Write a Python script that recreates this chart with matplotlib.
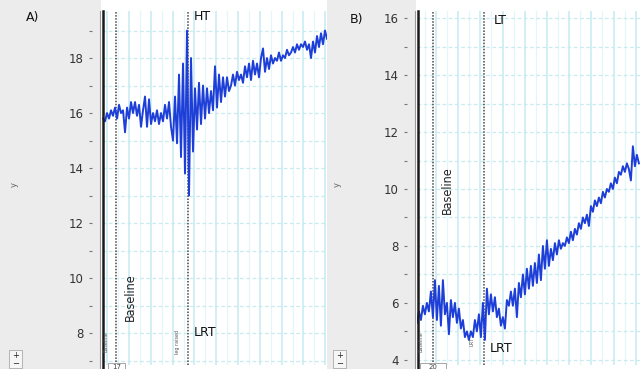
import numpy as np
import matplotlib.pyplot as plt
from matplotlib.lines import Line2D
from matplotlib.patches import Rectangle
from matplotlib.ticker import MultipleLocator

W, H = 640, 369

# signal A (read every ~2 px across the trace)
vals_a = [15.8, 15.7, 16.0, 15.8, 16.1, 15.9, 16.2, 15.8, 16.3, 16.0,
          16.1, 15.3, 16.2, 15.8, 16.4, 16.0, 16.4, 15.9, 16.3, 15.5,
          16.1, 16.6, 15.5, 16.5, 15.6, 16.0, 15.7, 16.1, 15.6, 16.0,
          15.7, 16.3, 15.8, 16.4, 15.5, 15.0, 16.6, 14.9, 17.4, 14.4,
          17.8, 13.8, 19.0, 13.0, 18.0, 14.6, 16.9, 15.4, 17.1, 15.6,
          17.0, 15.8, 16.9, 16.0, 16.8, 16.1, 17.7, 16.2, 17.4, 16.4,
          17.3, 16.6, 17.3, 16.8, 17.0, 17.4, 17.0, 17.5, 17.2, 17.4,
          17.1, 17.7, 17.3, 17.8, 17.2, 17.9, 17.4, 17.8, 17.3, 18.0,
          18.35, 17.5, 18.0, 17.6, 18.1, 17.8, 18.0, 17.9, 18.2, 17.9,
          18.1, 18.0, 18.3, 18.1, 18.2, 18.4, 18.2, 18.5, 18.3, 18.5,
          18.4, 18.6, 18.3, 18.5, 18.0, 18.6, 18.2, 18.8, 18.4, 18.9,
          18.5, 19.0, 18.7]

# signal B
vals_b = [5.3, 5.7, 5.4, 5.9, 5.6, 6.0, 5.7, 6.4, 5.5, 6.8,
          5.4, 6.6, 5.2, 6.8, 5.6, 6.0, 4.9, 6.1, 5.5, 6.0,
          5.3, 5.8, 5.1, 5.4, 4.8, 5.0, 4.7, 5.0, 4.8, 5.4,
          5.0, 5.6, 4.8, 6.0, 4.7, 6.5, 5.6, 6.3, 5.7, 6.2,
          5.5, 5.8, 5.2, 5.5, 5.1, 6.1, 5.9, 6.4, 5.9, 6.5,
          5.5, 6.7, 6.2, 7.0, 6.3, 7.2, 6.5, 7.3, 6.6, 7.4,
          6.7, 7.7, 6.8, 8.0, 7.2, 8.2, 7.3, 7.9, 7.5, 8.1,
          7.7, 8.2, 7.9, 8.1, 8.0, 8.3, 8.1, 8.5, 8.2, 8.6,
          8.4, 8.8, 8.6, 9.0, 8.8, 9.1, 8.7, 9.4, 9.2, 9.6,
          9.4, 9.7, 9.5, 9.9, 9.7, 10.0, 9.9, 10.2, 10.0, 10.4,
          10.2, 10.6, 10.5, 10.8, 10.6, 10.9, 10.7, 10.3, 11.5, 10.8,
          11.2, 10.9]

yticks_a = [8, 10, 12, 14, 16, 18]
yticks_b = [4, 6, 8, 10, 12, 14, 16]

# time span of each recording and event markers (same time units as the grid)
span_a = (8.07, 110.8)
span_b = (11.4, 111.4)
events_a = [("Baseline", 14.0), ("leg raised", 47.1)]
events_b = [("Baseline", 18.65), ("LRT", 41.6)]


def fx(px):
    return px / W


def fy(py):
    return 1 - py / H


fig = plt.figure(figsize=(W / 100, H / 100), dpi=100)
fig.patch.set_facecolor("white")

# grey side panels of the recording software
for x0, x1 in [(0, 101), (327, 416)]:
    fig.add_artist(Rectangle((fx(x0), 0), fx(x1) - fx(x0), 1, zorder=-5,
                             transform=fig.transFigure, color="#ececec", lw=0))


def panel(left, right, xlim, ylim, vals, span, yticks, events):
    ax = fig.add_axes([fx(left), fy(365), fx(right) - fx(left), fy(11) - fy(365)])
    t = np.linspace(span[0], span[1], len(vals))
    ax.set_xlim(*xlim)
    ax.set_ylim(*ylim)
    ax.xaxis.set_major_locator(MultipleLocator(10))
    ax.xaxis.set_minor_locator(MultipleLocator(5))
    ax.set_yticks(yticks)
    ax.yaxis.set_minor_locator(MultipleLocator(1))
    ax.grid(which="major", axis="x", color="#cdeef3", lw=1.3)
    ax.grid(which="minor", axis="x", color="#e3f6f8", lw=0.9)
    ax.grid(which="both", axis="y", color="#c8ebf0", lw=0.9, ls=(0, (3, 2)))
    ax.set_axisbelow(True)
    ax.tick_params(axis="x", which="both", length=0, labelbottom=False)
    ax.tick_params(axis="y", which="both", length=2, width=0.8, color="#777",
                   pad=4, labelsize=8.5, labelcolor="#333")
    for s in ["top", "right", "bottom"]:
        ax.spines[s].set_visible(False)
    ax.spines["left"].set_position(("outward", 7))
    ax.spines["left"].set_color("none")
    for name, pos in events:
        ax.axvline(pos, color="#444", lw=1.1, ls=(0, (1, 1)), zorder=3)
    ax.plot(t, vals, color="#1d3fd8", lw=1.4, zorder=4)
    # dark frame line on the left
    fig.add_artist(Line2D([fx(left - 2.5)] * 2, [0, fy(11)], color="#9a9a9a", lw=0.8))
    fig.add_artist(Line2D([fx(left + 0.5)] * 2, [0, fy(11)], color="#1a1a1a", lw=1.8))
    return ax


panel(102, 327, (7.6, 110.8), (6.84, 19.71), vals_a, span_a, yticks_a, events_a)
panel(417, 640, (11.44, 111.9), (3.82, 16.25), vals_b, span_b, yticks_b, events_b)

# annotations
txt = dict(color="#111", fontsize=9)
fig.text(fx(26), fy(17), "A)", va="center", ha="left", **txt)
fig.text(fx(350), fy(19), "B)", va="center", ha="left", **txt)
fig.text(fx(194), fy(17), "HT", va="center", ha="left", **txt)
fig.text(fx(494), fy(20), "LT", va="center", ha="left", **txt)
fig.text(fx(194), fy(333), "LRT", va="center", ha="left", **txt)
fig.text(fx(490), fy(348), "LRT", va="center", ha="left", **txt)
fig.text(fx(130), fy(297), "Baseline", rotation=90, va="center", ha="center",
         fontsize=9, fontstretch="condensed", color="#222")
fig.text(fx(447), fy(190), "Baseline", rotation=90, va="center", ha="center",
         fontsize=9, fontstretch="condensed", color="#222")

# axis name "y"
fig.text(fx(14), fy(184), "y", rotation=90, va="center", ha="center", fontsize=6, color="#666")
fig.text(fx(337), fy(184), "y", rotation=90, va="center", ha="center", fontsize=6, color="#666")

# small event labels at the bottom of each trace
for px, lab in [(106, "Baseline"), (177, "leg raised"), (421, "Baseline"), (472, "LRT")]:
    fig.text(fx(px), fy(342), lab, rotation=90, va="center", ha="center",
             fontsize=3.5, color="#555")

# little boxes and zoom buttons
for x0, x1, lab in [(108, 125, "17"), (420, 446, "20")]:
    fig.add_artist(Rectangle((fx(x0), 0), fx(x1) - fx(x0), fy(363),
                             transform=fig.transFigure, fc="white", ec="#999", lw=0.6))
    fig.text(fx((x0 + x1) / 2), fy(367), lab, ha="center", va="center", fontsize=5, color="#444")
for bx in [9, 333]:
    fig.add_artist(Rectangle((fx(bx), fy(368)), fx(13), fy(350) - fy(368),
                             transform=fig.transFigure, fc="#f6f6f6", ec="#aaa", lw=0.6))
    fig.text(fx(bx + 6.5), fy(355), "+", ha="center", va="center", fontsize=6, color="#222")
    fig.text(fx(bx + 6.5), fy(364), "\u2212", ha="center", va="center", fontsize=6, color="#222")

fig.savefig("out.png", dpi=100)
